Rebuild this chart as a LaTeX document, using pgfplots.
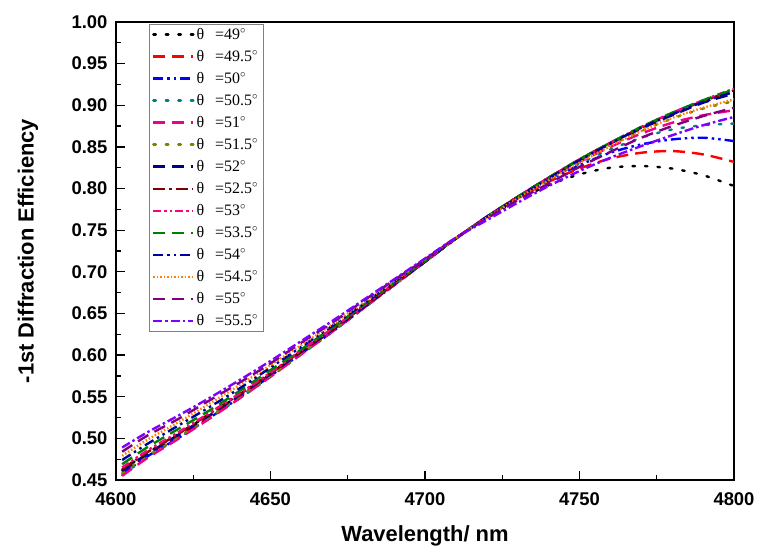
\documentclass[border=0pt]{standalone}
\usepackage{fontspec}
\setmainfont{Liberation Serif}
\setsansfont{Liberation Sans}
\usepackage{pgfplots}
\usepackage{pgfplotstable}
\pgfplotsset{compat=1.18}

\definecolor{cteal}{RGB}{0,128,128}
\definecolor{colive}{RGB}{128,128,0}
\definecolor{cnavy}{RGB}{0,0,128}
\definecolor{cdred}{RGB}{128,0,0}
\definecolor{cpink}{RGB}{255,0,128}
\definecolor{cgreen}{RGB}{0,128,0}
\definecolor{cnavyb}{RGB}{0,0,160}
\definecolor{corange}{RGB}{255,128,0}
\definecolor{cpurple}{RGB}{128,0,128}
\definecolor{cviolet}{RGB}{128,0,255}

\pgfplotstableread{
x    a    b    c    d    e    f    g    h    i    j    k    l    m    n
4602 0.462 0.459 0.457 0.456 0.455 0.458 0.461 0.463 0.465 0.469 0.474 0.479 0.484 0.489
4610 0.482 0.480 0.478 0.477 0.476 0.479 0.481 0.483 0.485 0.489 0.493 0.498 0.503 0.507
4620 0.505 0.502 0.500 0.500 0.499 0.501 0.504 0.505 0.507 0.511 0.515 0.519 0.523 0.527
4630 0.528 0.526 0.524 0.524 0.523 0.525 0.527 0.529 0.530 0.533 0.537 0.541 0.545 0.548
4640 0.552 0.550 0.549 0.548 0.548 0.550 0.552 0.553 0.554 0.557 0.560 0.564 0.567 0.570
4650 0.578 0.576 0.575 0.574 0.574 0.575 0.577 0.578 0.579 0.582 0.585 0.588 0.590 0.593
4660 0.604 0.603 0.602 0.601 0.601 0.602 0.604 0.605 0.606 0.607 0.610 0.612 0.615 0.617
4670 0.630 0.629 0.628 0.628 0.628 0.629 0.630 0.631 0.632 0.633 0.635 0.637 0.639 0.641
4680 0.658 0.657 0.656 0.656 0.656 0.657 0.657 0.658 0.659 0.660 0.661 0.663 0.665 0.666
4690 0.685 0.684 0.684 0.684 0.684 0.684 0.685 0.685 0.686 0.687 0.688 0.689 0.690 0.691
4700 0.712 0.712 0.712 0.712 0.712 0.712 0.712 0.713 0.713 0.713 0.714 0.715 0.715 0.716
4710 0.740 0.740 0.740 0.740 0.740 0.740 0.740 0.740 0.740 0.740 0.740 0.741 0.741 0.741
4720 0.765 0.766 0.766 0.766 0.766 0.766 0.766 0.766 0.766 0.766 0.766 0.765 0.764 0.762
4730 0.786 0.788 0.789 0.789 0.790 0.790 0.790 0.790 0.790 0.790 0.789 0.788 0.786 0.783
4740 0.804 0.808 0.810 0.811 0.812 0.812 0.813 0.813 0.813 0.813 0.812 0.810 0.806 0.803
4750 0.817 0.824 0.828 0.830 0.832 0.833 0.834 0.835 0.835 0.835 0.834 0.831 0.826 0.821
4760 0.825 0.836 0.843 0.847 0.850 0.852 0.854 0.855 0.855 0.855 0.854 0.851 0.844 0.837
4770 0.827 0.843 0.853 0.861 0.866 0.869 0.872 0.873 0.874 0.874 0.873 0.869 0.861 0.851
4780 0.824 0.845 0.859 0.871 0.879 0.884 0.888 0.890 0.891 0.891 0.889 0.885 0.875 0.864
4790 0.816 0.841 0.861 0.876 0.888 0.896 0.903 0.905 0.906 0.906 0.904 0.897 0.887 0.876
4800 0.803 0.832 0.857 0.878 0.894 0.905 0.914 0.918 0.920 0.919 0.916 0.907 0.897 0.886
}\datatable

\begin{document}
\begin{tikzpicture}
\begin{axis}[
  scale only axis,
  width=618bp, height=458bp,
  xmin=4600, xmax=4800, ymin=0.45, ymax=1.00,
  xtick={4600,4650,4700,4750,4800},
  minor x tick num=1,
  ytick={0.45,0.50,0.55,0.60,0.65,0.70,0.75,0.80,0.85,0.90,0.95,1.00},
  minor y tick num=1,
  tick align=inside,
  tick pos=left,
  major tick length=9bp,
  minor tick length=5bp,
  axis line style={line width=1.3bp},
  every tick/.style={black, line width=1.2bp},
  /pgf/number format/assume math mode=true,
  xticklabel style={yshift=-9bp, /pgf/number format/set thousands separator={}},
  yticklabel style={xshift=-5bp, /pgf/number format/.cd, fixed, fixed zerofill, precision=2},
  tick label style={font=\sffamily\bfseries\fontsize{18.5}{20}\selectfont},
  xlabel={Wavelength/ nm},
  ylabel={-1st Diffraction Efficiency},
  label style={font=\sffamily\bfseries\fontsize{22}{24}\selectfont},
  xlabel style={at={(axis description cs:0.5,-0.122)}, anchor=center},
  ylabel style={at={(axis description cs:-0.1424,0.5)}, anchor=center},
  legend style={at={(axis description cs:0.053,0.996)}, anchor=north west,
    draw=gray, line width=0.8bp, fill=white,
    font=\fontsize{16}{18}\selectfont,
    row sep=5.4bp, inner xsep=3bp, inner ysep=2bp},
  legend cell align=left,
  legend image code/.code={\draw[#1] (0bp,0bp) -- (40bp,0bp);},
  every axis plot/.append style={line width=2.4bp, smooth},
]
\addplot[black, dash pattern=on 2.5bp off 10bp, line cap=round] table[x=x,y=a]{\datatable};
\addlegendentry{θ\hspace{11bp}=49$^{\circ}$}
\addplot[red, dash pattern=on 12bp off 7bp] table[x=x,y=b]{\datatable};
\addlegendentry{θ\hspace{11bp}=49.5$^{\circ}$}
\addplot[blue, dash pattern=on 10bp off 4bp on 2.5bp off 4bp on 2.5bp off 4bp] table[x=x,y=c]{\datatable};
\addlegendentry{θ\hspace{11bp}=50$^{\circ}$}
\addplot[cteal, dash pattern=on 2.5bp off 10bp, line cap=round] table[x=x,y=d]{\datatable};
\addlegendentry{θ\hspace{11bp}=50.5$^{\circ}$}
\addplot[magenta, dash pattern=on 12bp off 7bp] table[x=x,y=e]{\datatable};
\addlegendentry{θ\hspace{11bp}=51$^{\circ}$}
\addplot[colive, dash pattern=on 2.5bp off 10bp, line cap=round] table[x=x,y=f]{\datatable};
\addlegendentry{θ\hspace{11bp}=51.5$^{\circ}$}
\addplot[cnavy, dash pattern=on 12bp off 7bp] table[x=x,y=g]{\datatable};
\addlegendentry{θ\hspace{11bp}=52$^{\circ}$}
\addplot[cdred, dash pattern=on 12bp off 4bp on 2.5bp off 4bp] table[x=x,y=h]{\datatable};
\addlegendentry{θ\hspace{11bp}=52.5$^{\circ}$}
\addplot[cpink, dash pattern=on 8bp off 3bp on 2.5bp off 3bp on 2.5bp off 3bp] table[x=x,y=i]{\datatable};
\addlegendentry{θ\hspace{11bp}=53$^{\circ}$}
\addplot[cgreen, dash pattern=on 12bp off 7bp] table[x=x,y=j]{\datatable};
\addlegendentry{θ\hspace{11bp}=53.5$^{\circ}$}
\addplot[cnavyb, dash pattern=on 10bp off 4bp on 2.5bp off 4bp on 2.5bp off 4bp] table[x=x,y=k]{\datatable};
\addlegendentry{θ\hspace{11bp}=54$^{\circ}$}
\addplot[corange, dash pattern=on 1.5bp off 2bp] table[x=x,y=l]{\datatable};
\addlegendentry{θ\hspace{11bp}=54.5$^{\circ}$}
\addplot[cpurple, dash pattern=on 12bp off 7bp] table[x=x,y=m]{\datatable};
\addlegendentry{θ\hspace{11bp}=55$^{\circ}$}
\addplot[cviolet, dash pattern=on 9bp off 3bp on 2.5bp off 3bp] table[x=x,y=n]{\datatable};
\addlegendentry{θ\hspace{11bp}=55.5$^{\circ}$}
\end{axis}
\path ([shift={(-116bp,-69bp)}]current axis.south west) rectangle ++(758bp,549bp);
\end{tikzpicture}
\end{document}
